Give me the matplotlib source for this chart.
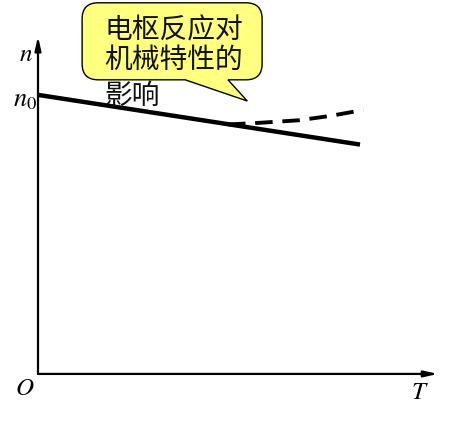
import numpy as np
import matplotlib
matplotlib.use("Agg")
import matplotlib.pyplot as plt
from matplotlib.path import Path
from matplotlib.patches import PathPatch

plt.rcParams['mathtext.fontset'] = 'stix'

# mechanical characteristic n(T), relative to n0
T_solid = [0.0, 1.0]
n_solid = [1.0, 0.822]

# with armature reaction (dashed)
T_dash = [0.59, 0.69, 0.81, 0.91, 1.01]
n_dash = [0.894, 0.900, 0.909, 0.925, 0.946]

bubble_lines = ["电枢反应对", "机械特性的", "影响"]

fig = plt.figure(figsize=(4.55, 4.25), dpi=100)
ax = fig.add_axes([0, 0, 1, 1])
ax.set_xlim(-0.118, 1.295)
ax.set_ylim(-0.183, 1.340)
ax.axis('off')

# axes with arrows
ax.annotate('', xy=(1.242, 0), xytext=(0, 0),
            arrowprops=dict(arrowstyle='-|>,head_length=0.8,head_width=0.18',
                            lw=1.6, color='black', shrinkA=0, shrinkB=0))
ax.annotate('', xy=(0, 1.21), xytext=(0, 0),
            arrowprops=dict(arrowstyle='-|>,head_length=0.8,head_width=0.18',
                            lw=1.6, color='black', shrinkA=0, shrinkB=0))

# curves
ax.plot(T_solid, n_solid, color='black', lw=3.2, solid_capstyle='butt')
ax.plot(T_dash, n_dash, color='black', lw=2.8, ls=(0, (4.5, 2.5)))

# labels
ax.text(-0.015, 1.145, '$n$', fontsize=18, ha='right', va='center')
ax.text(-0.002, 0.985, '$n_0$', fontsize=19, ha='right', va='center')
ax.text(-0.012, -0.05, '$O$', fontsize=18, ha='right', va='center')
ax.text(1.185, -0.065, '$T$', fontsize=18, ha='center', va='center')

# speech bubble
x0, x1 = 0.137, 0.696
y0, y1 = 1.054, 1.330
r = 0.05
ry = r * (1.523 / 1.413) * (455 / 425)
tail_l, tail_r = 0.457, 0.590
tip = (0.650, 0.978)
verts = [
    (x0 + r, y0), (tail_l, y0), tip, (tail_r, y0), (x1 - r, y0),
    (x1, y0), (x1, y0 + ry),
    (x1, y1 - ry),
    (x1, y1), (x1 - r, y1),
    (x0 + r, y1),
    (x0, y1), (x0, y1 - ry),
    (x0, y0 + ry),
    (x0, y0), (x0 + r, y0),
    (x0 + r, y0),
]
codes = [Path.MOVETO, Path.LINETO, Path.LINETO, Path.LINETO, Path.LINETO,
         Path.CURVE3, Path.CURVE3,
         Path.LINETO,
         Path.CURVE3, Path.CURVE3,
         Path.LINETO,
         Path.CURVE3, Path.CURVE3,
         Path.LINETO,
         Path.CURVE3, Path.CURVE3,
         Path.CLOSEPOLY]
ax.add_patch(PathPatch(Path(verts, codes), facecolor='#ffff80',
                       edgecolor='black', lw=1.0, zorder=3))

line_n = [1.232, 1.125, 0.995]
for s, yy in zip(bubble_lines, line_n):
    ax.text(0.205, yy, s, fontsize=20, ha='left', va='center',
            family=['Noto Sans CJK SC', 'DejaVu Sans'],
            color='#111111', zorder=4)

fig.savefig('out.png', dpi=100)
